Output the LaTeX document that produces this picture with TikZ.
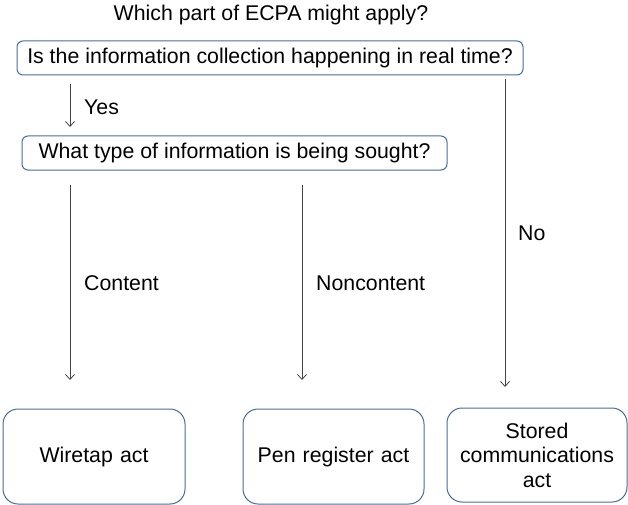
\documentclass[tikz,border=0pt]{standalone}
\usepackage{fontspec}
\setmainfont{Liberation Sans}
\usetikzlibrary{arrows.meta}
\definecolor{boxblue}{HTML}{4A6B9C}
\definecolor{arrgray}{HTML}{444444}
\tikzset{
  bigfont/.style={font=\fontsize{21.3}{24.5}\selectfont},
  qbox/.style={draw=boxblue, line width=1pt, rounded corners=6pt, inner sep=0pt, minimum height=34pt, bigfont},
  actbox/.style={draw=boxblue, line width=1pt, rounded corners=15pt, inner sep=0pt, text width=176pt, align=center, bigfont},
  arr/.style={draw=arrgray, line width=0.8pt, -{Straight Barb[length=5pt,width=9pt]}},
  lbl/.style={bigfont, anchor=west, inner sep=0pt},
}
\begin{document}
\begin{tikzpicture}[x=1pt,y=-1pt]
\useasboundingbox (0,0) rectangle (628,505);
\node[bigfont] (title) at (271,15) {Which part of ECPA might apply?};
\node[qbox, minimum width=506pt] (q1) at (270,58) {Is the information collection happening in real time?};
\node[qbox, minimum width=425pt] (q2) at (234.5,153) {What type of information is being sought?};
\node[actbox, minimum width=182pt, minimum height=95pt] (wire) at (94,456.5) {Wiretap act};
\node[actbox, minimum width=181pt, minimum height=95pt] (pen) at (333.5,456.5) {Pen register act};
\node[actbox, minimum width=180pt, minimum height=94pt] (stored) at (537,455) {Stored\\communications\\act};
\coordinate (yesEnd) at (70,127);
\coordinate (conEnd) at (70,380);
\coordinate (nonEnd) at (302,380);
\coordinate (noEnd) at (505,387);
\draw[arr, shorten <=9pt] (q1.south -| yesEnd) -- (yesEnd);
\draw[arr, shorten <=14pt] (q2.south -| conEnd) -- (conEnd);
\draw[arr, shorten <=14pt] (q2.south -| nonEnd) -- (nonEnd);
\draw[arr, shorten <=4pt] (q1.south -| noEnd) -- (noEnd);
\node[lbl] (yes) at (84,107) {Yes};
\node[lbl] (con) at (84,283) {Content};
\node[lbl] (non) at (316,283) {Noncontent};
\node[lbl] (no) at (518,233) {No};
\end{tikzpicture}
\end{document}
